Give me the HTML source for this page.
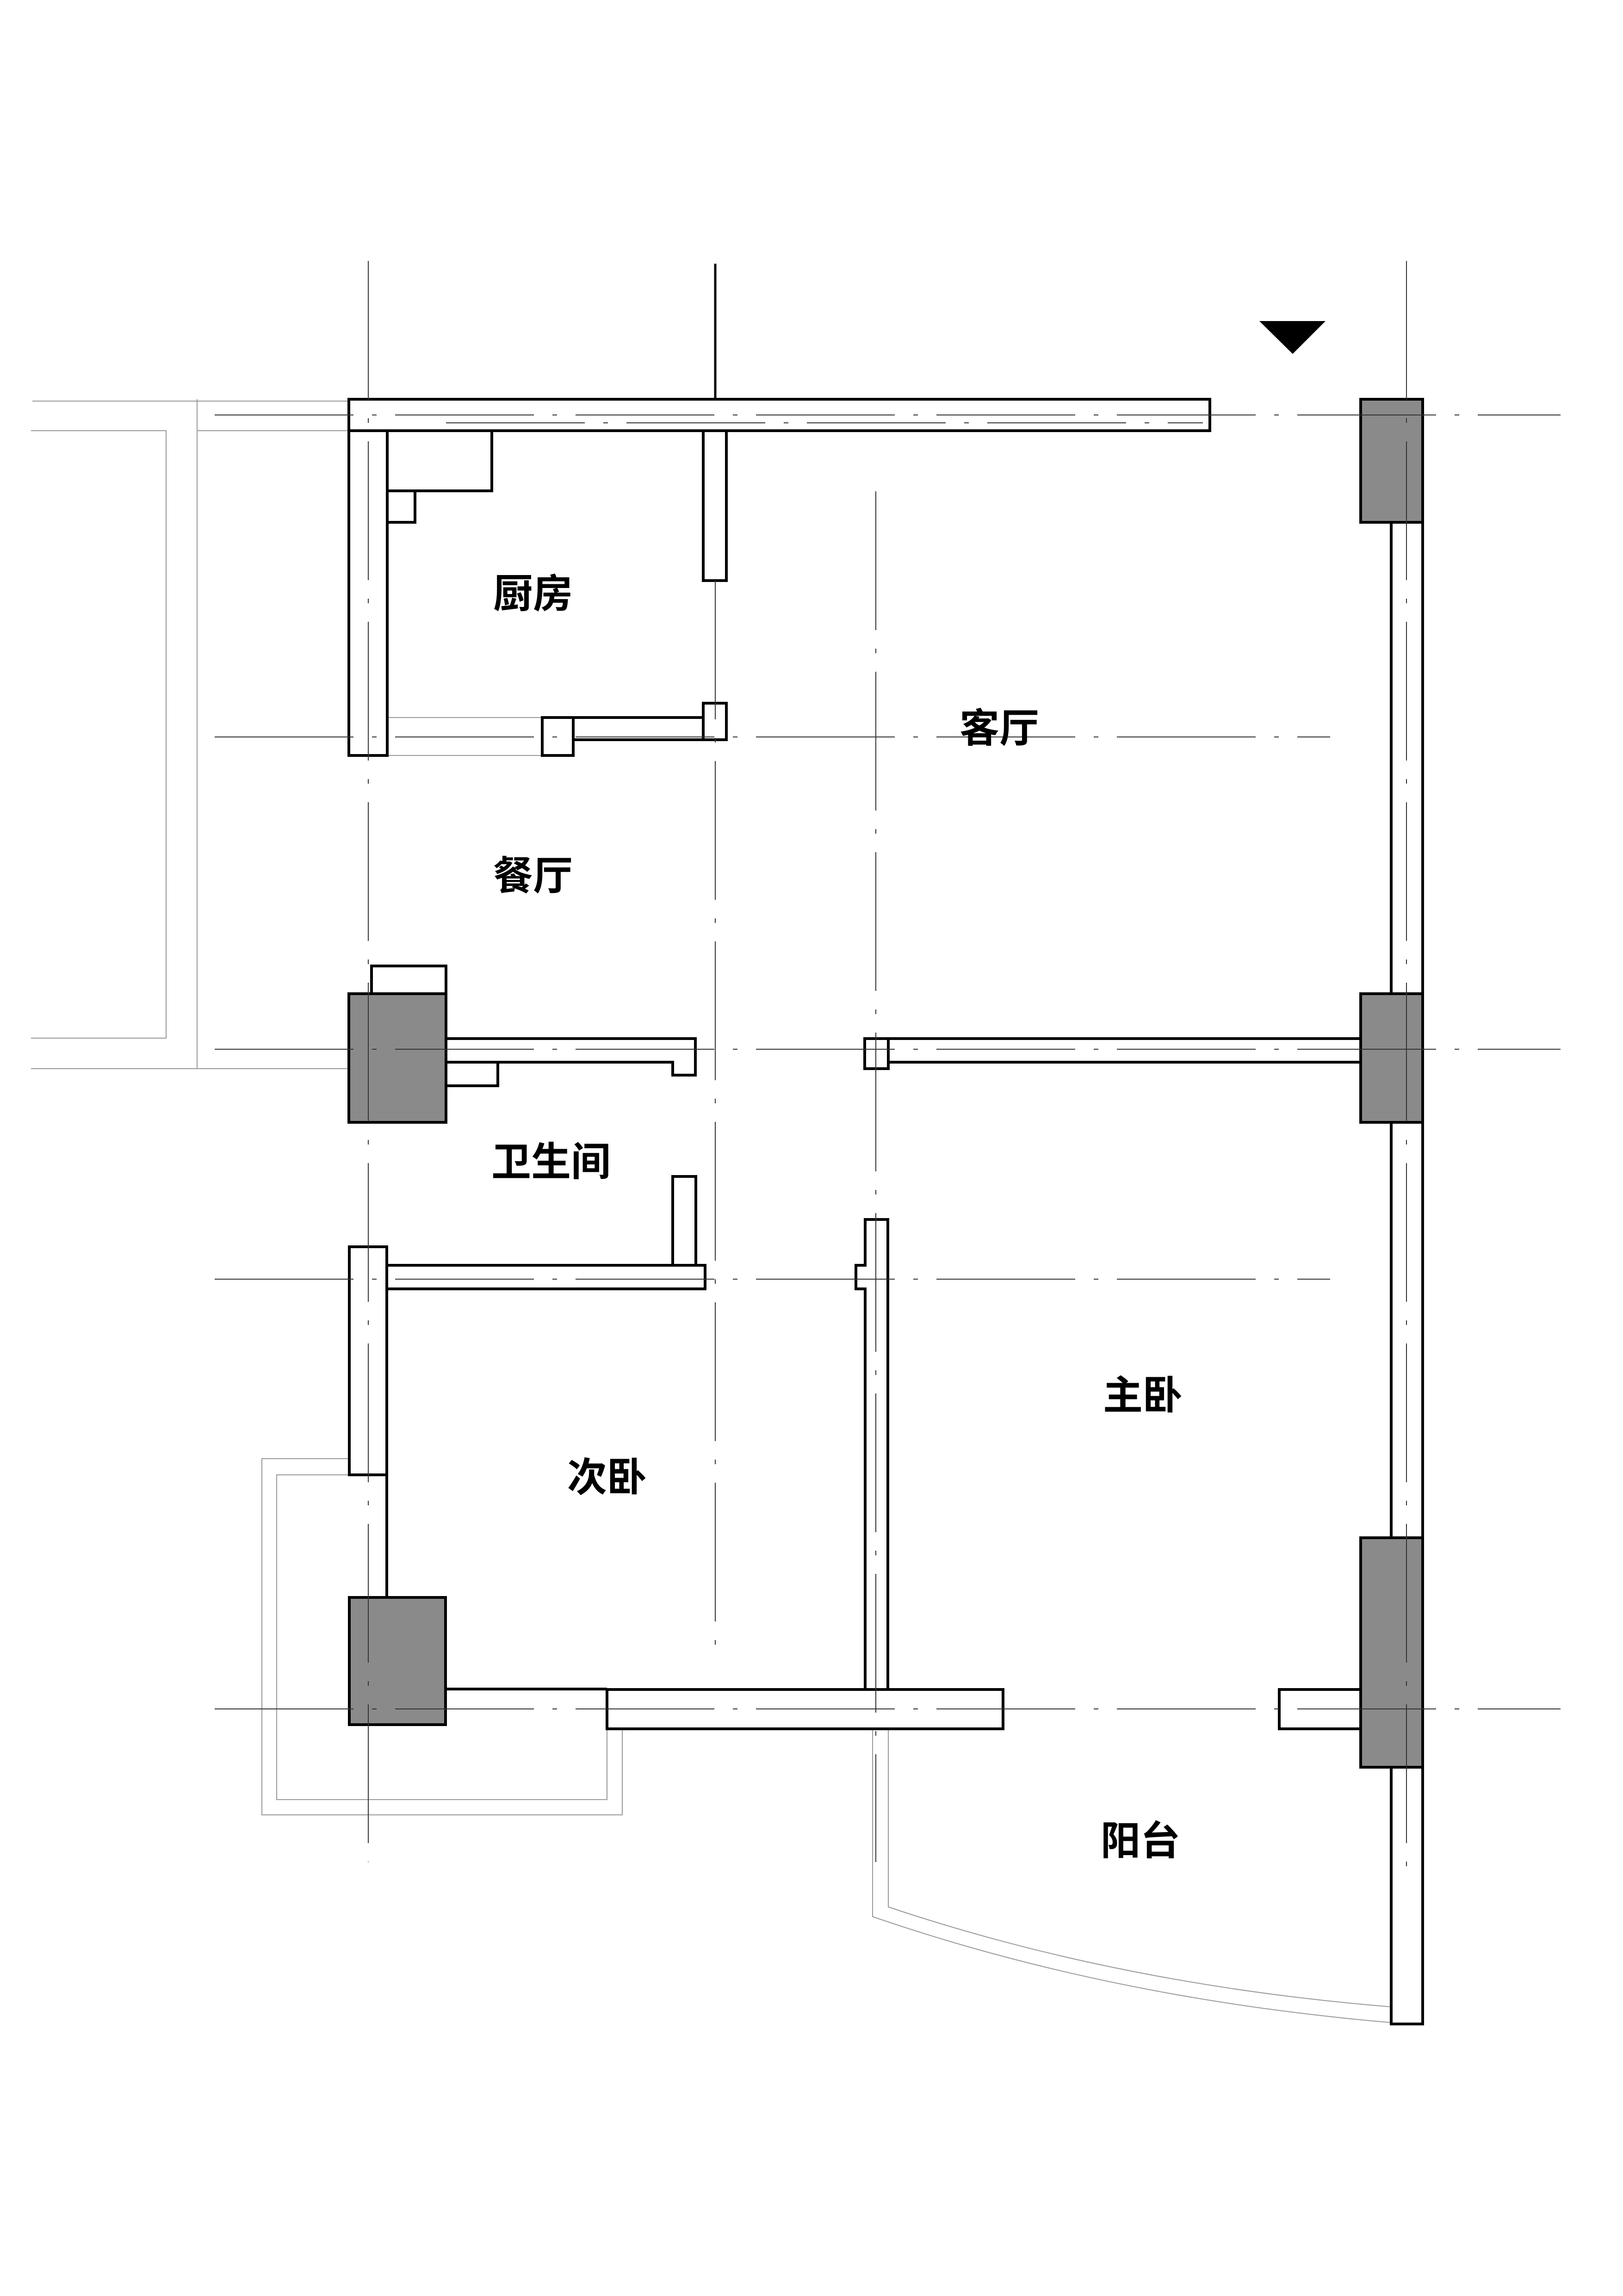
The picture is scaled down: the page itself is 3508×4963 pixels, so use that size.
<!DOCTYPE html>
<html><head><meta charset="utf-8"><style>
html,body{margin:0;padding:0;background:#fff}
svg{display:block}
text{font-family:"Liberation Sans","Noto Sans CJK SC",sans-serif;font-weight:bold;font-size:86px;text-anchor:middle;dominant-baseline:central}
</style></head><body>
<svg width="3508" height="4963" viewBox="0 0 3508 4963" xmlns="http://www.w3.org/2000/svg">
<g stroke="#999" stroke-width="2" fill="none">
 <line x1="70" y1="867" x2="759" y2="867"/>
 <polyline points="67,931 359,931 359,2244 67,2244"/>
 <line x1="426" y1="863" x2="426" y2="2310"/>
 <line x1="426" y1="931" x2="759" y2="931"/>
 <line x1="67" y1="2310" x2="759" y2="2310"/>
 <line x1="837" y1="1551" x2="1172" y2="1551"/>
 <line x1="837" y1="1633" x2="1172" y2="1633"/>
 <polyline points="755,3153 566,3153 566,3923 1345,3923 1345,3737"/>
 <polyline points="755,3188 598,3188 598,3890 1312,3890 1312,3737"/>
 <path d="M1886,3737 L1886,4143 Q2400,4320 3007,4372"/>
 <path d="M1920,3737 L1920,4122 Q2420,4290 3007,4338"/>
</g>
<line x1="1546" y1="570" x2="1546" y2="1255" stroke="#000" stroke-width="5"/>
<g stroke="#000" stroke-width="6" fill="#fff">
 <rect x="754" y="863" width="1861" height="68"/>
 <rect x="754" y="931" width="83" height="702"/>
 <rect x="837" y="931" width="226" height="130"/>
 <rect x="837" y="1061" width="60" height="68"/>
 <rect x="1520" y="931" width="50" height="324"/>
 <rect x="1239" y="1551" width="331" height="48"/>
 <rect x="1172" y="1551" width="67" height="82"/>
 <rect x="1520" y="1520" width="50" height="79"/>
 <rect x="803" y="2088" width="161" height="60"/>
 <polygon points="964,2245 1503,2245 1503,2324 1454,2324 1454,2296 964,2296"/>
 <rect x="964" y="2296" width="112" height="51"/>
 <rect x="1920" y="2245" width="1021" height="51"/>
 <rect x="1869" y="2245" width="51" height="65"/>
 <rect x="3007" y="1129" width="68" height="3246"/>
 <rect x="1454" y="2543" width="50" height="192"/>
 <rect x="836" y="2735" width="688" height="51"/>
 <rect x="755" y="2695" width="81" height="493"/>
 <line x1="836" y1="3188" x2="836" y2="3453"/>
 <polygon points="1870,2636 1919,2636 1919,3652 1870,3652 1870,2786 1850,2786 1850,2735 1870,2735"/>
 <line x1="963" y1="3651" x2="1312" y2="3651"/>
 <rect x="1312" y="3652" width="856" height="85"/>
 <rect x="2765" y="3652" width="176" height="85"/>
</g>
<g stroke="#000" stroke-width="6" fill="#8a8a8a">
 <rect x="754" y="2148" width="210" height="278"/>
 <rect x="755" y="3453" width="208" height="275"/>
 <rect x="2941" y="863" width="134" height="266"/>
 <rect x="2941" y="2148" width="134" height="278"/>
 <rect x="2941" y="3324" width="134" height="496"/>
</g>
<g stroke="#333" stroke-width="2" fill="none">
 <line x1="464" y1="897" x2="3373" y2="897" stroke-dasharray="300 40 10 40"/>
 <line x1="964" y1="914" x2="2600" y2="914" stroke-dasharray="300 40 10 40"/>
 <line x1="464" y1="1593" x2="2875" y2="1593" stroke-dasharray="300 40 10 40"/>
 <line x1="464" y1="2268" x2="3373" y2="2268" stroke-dasharray="300 40 10 40"/>
 <line x1="464" y1="2765" x2="2875" y2="2765" stroke-dasharray="300 40 10 40"/>
 <line x1="464" y1="3694" x2="3373" y2="3694" stroke-dasharray="300 40 10 40"/>
 <line x1="796" y1="564" x2="796" y2="4025" stroke-dasharray="300 40 10 40"/>
 <line x1="1546" y1="1255" x2="1546" y2="3556" stroke-dasharray="300 40 10 40"/>
 <line x1="1893" y1="1062" x2="1893" y2="4025" stroke-dasharray="300 40 10 40"/>
 <line x1="3040" y1="564" x2="3040" y2="4050" stroke-dasharray="300 40 10 40"/>
</g>
<polygon points="2722,694 2865,694 2794,765" fill="#000"/>
<text x="1152" y="1284">厨房</text>
<text x="1152" y="1894">餐厅</text>
<text x="2160" y="1575">客厅</text>
<text x="1191" y="2512">卫生间</text>
<text x="1312" y="3194">次卧</text>
<text x="2470" y="3017">主卧</text>
<text x="2465" y="3980">阳台</text>
</svg>
</body></html>
